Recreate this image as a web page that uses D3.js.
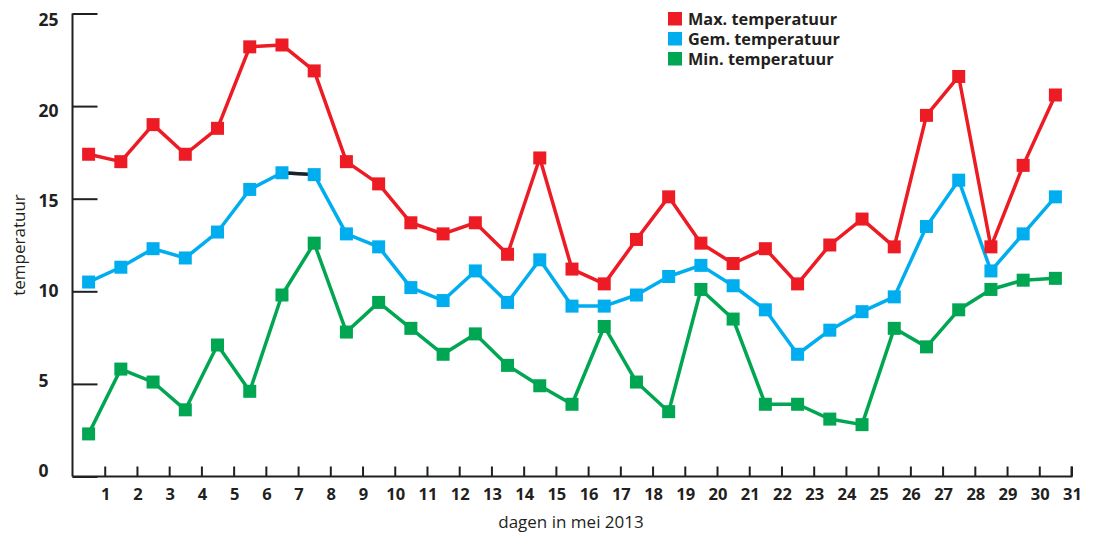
<!DOCTYPE html>
<html><head><meta charset="utf-8">
<script src="https://cdn.jsdelivr.net/npm/d3@7"></script>
<style>body{margin:0;background:#fff}svg{display:block}text{font-family:"Open Sans","Noto Sans",sans-serif;fill:#231f20}</style>
</head><body><svg id="c" width="1094" height="536"></svg>
<script>
const days = d3.range(1, 32);
const maxTemp = [17.4,17.0,19.0,17.4,18.8,23.2,23.3,21.9,17.0,15.8,13.7,13.1,13.7,12.0,17.2,11.2,10.4,12.8,15.1,12.6,11.5,12.3,10.4,12.5,13.9,12.4,19.5,21.6,12.4,16.8,20.6];
const gemTemp = [10.5,11.3,12.3,11.8,13.2,15.5,16.4,16.3,13.1,12.4,10.2,9.5,11.1,9.4,11.7,9.2,9.2,9.8,10.8,11.4,10.3,9.0,6.6,7.9,8.9,9.7,13.5,16.0,11.1,13.1,15.1];
const minTemp = [2.3,5.8,5.1,3.6,7.1,4.6,9.8,12.6,7.8,9.4,8.0,6.6,7.7,6.0,4.9,3.9,8.1,5.1,3.5,10.1,8.5,3.9,3.9,3.1,2.8,8.0,7.0,9.0,10.1,10.6,10.7];
const seriesNames = ["Max. temperatuur","Gem. temperatuur","Min. temperatuur"];
const seriesColors = ["#ed1c24","#00aeef","#00a651"];
const yTicks = [0,5,10,15,20,25];
const xTicks = d3.range(1, 32);
const blackSegment = {series: 1, fromDay: 7, toDay: 8}; // dark segment in blue line

const svg = d3.select("#c");
const x = d3.scaleLinear().domain([0, 31]).range([72.5, 1071.5]);
const y = d3.scaleLinear().domain([0, 25]).range([476.5, 13.5]);
const yLabel = d3.scaleLinear().domain([0, 25]).range([471, 20]);

// y axis
const ya = svg.append("g").attr("transform","translate(72.5,0)")
  .call(d3.axisRight(y).tickValues(yTicks).tickSize(25).tickFormat(""));
ya.select(".domain").attr("d", `M0,${y(25)}V${y(0)}`).attr("stroke","#231f20").attr("stroke-width",2);
ya.selectAll(".tick line").attr("stroke","#231f20").attr("stroke-width",2);
svg.append("g").selectAll("text").data(yTicks).join("text")
  .attr("x",38.5).attr("y",d=>yLabel(d)).attr("dy","0.36em").attr("text-anchor","start")
  .attr("font-size",17.5).attr("font-weight","bold").text(d=>d);

// x axis
const xa = svg.append("g").attr("transform",`translate(0,${y(0)})`)
  .call(d3.axisTop(x).tickValues(xTicks).tickSize(10).tickFormat(""));
xa.select(".domain").attr("d", `M${x(0)},0H${x(31)}V-10`).attr("stroke","#231f20").attr("stroke-width",2).attr("fill","none");
xa.selectAll(".tick line").attr("stroke","#231f20").attr("stroke-width",2);
svg.append("g").selectAll("text").data(xTicks).join("text")
  .attr("x",d=>x(d)+1).attr("y",y(0)+23).attr("text-anchor","middle")
  .attr("font-size",16.5).attr("font-weight","bold").text(d=>d);

// axis titles
svg.append("text").attr("x",571).attr("y",528).attr("text-anchor","middle").attr("font-size",17).text("dagen in mei 2013");
svg.append("text").attr("transform","translate(25,245) rotate(-90)").attr("text-anchor","middle").attr("font-size",17).text("temperatuur");

// series
const all = [maxTemp, gemTemp, minTemp];
const line = d3.line().x((d,i)=>x(days[i]-0.5)).y(d=>y(d));
const order = [2,1,0];
order.forEach(s=>{
  const g = svg.append("g");
  g.append("path").datum(all[s]).attr("d",line).attr("fill","none")
    .attr("stroke",seriesColors[s]).attr("stroke-width",3.5).attr("stroke-linejoin","round");
  if (s === blackSegment.series) {
    const a = blackSegment.fromDay-1, b = blackSegment.toDay-1;
    g.append("line").attr("x1",x(days[a]-0.5)).attr("y1",y(all[s][a]))
      .attr("x2",x(days[b]-0.5)).attr("y2",y(all[s][b]))
      .attr("stroke","#231f20").attr("stroke-width",3.5);
  }
  g.selectAll("rect").data(all[s]).join("rect")
    .attr("x",(d,i)=>x(days[i]-0.5)-6.5).attr("y",d=>y(d)-6.5)
    .attr("width",13).attr("height",13).attr("fill",seriesColors[s]);
});

// legend
const lg = svg.append("g").attr("transform","translate(668,12)");
seriesNames.forEach((n,i)=>{
  lg.append("rect").attr("x",0).attr("y",i*20).attr("width",14).attr("height",13.5).attr("fill",seriesColors[i]);
  lg.append("text").attr("x",20).attr("y",i*20+7).attr("dy","0.36em")
    .attr("font-size",16.3).attr("font-weight","bold").text(n);
});
</script></body></html>
